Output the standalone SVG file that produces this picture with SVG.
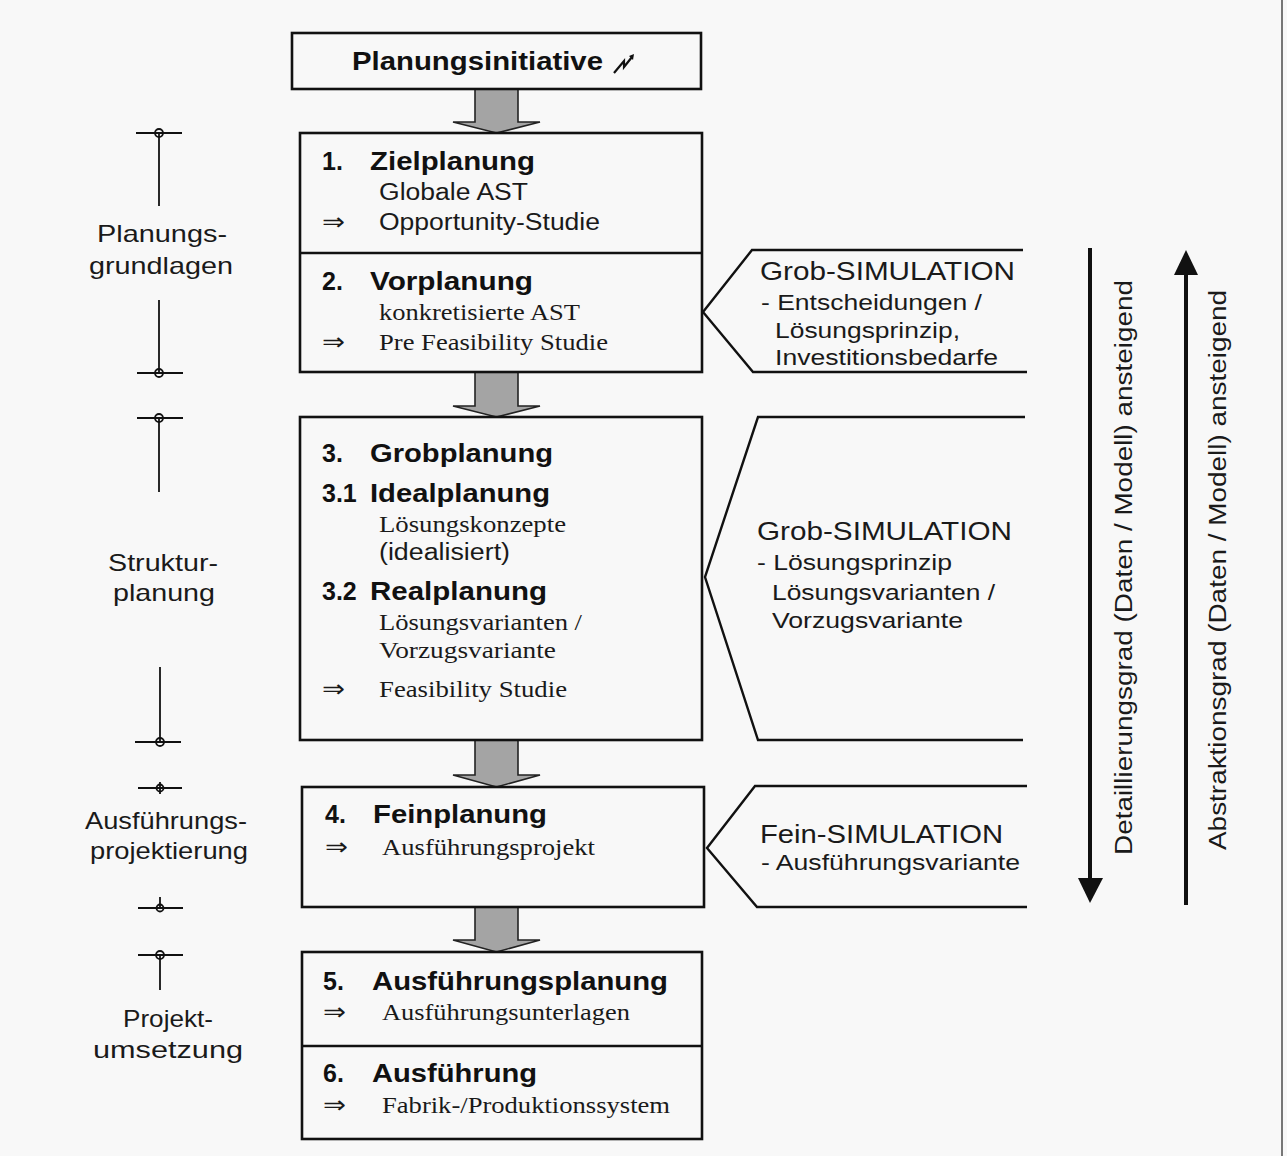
<svg xmlns="http://www.w3.org/2000/svg" width="1287" height="1156" viewBox="0 0 1287 1156">
<style>
.box{fill:none;stroke:#111;stroke-width:2.6}
.ln{fill:none;stroke:#111;stroke-width:2.4}
.thin{fill:none;stroke:#111;stroke-width:1.8}
.garrow{fill:#a4a4a4;stroke:#222;stroke-width:1.6}
.h{font-family:"Liberation Sans",Arial,sans-serif;font-weight:bold;font-size:25px;fill:#111}
.s{font-family:"Liberation Sans",Arial,sans-serif;font-size:23px;fill:#1a1a1a}
.r{font-family:"Liberation Serif","Times New Roman",serif;font-size:23px;fill:#1a1a1a}
.sym{font-family:"DejaVu Sans","DejaVu Serif",sans-serif;font-size:24px;fill:#1a1a1a}
.sim{font-family:"Liberation Sans",Arial,sans-serif;font-size:25px;fill:#1a1a1a}
.sub{font-family:"Liberation Sans",Arial,sans-serif;font-size:22px;fill:#1a1a1a}
.lab{font-family:"Liberation Sans",Arial,sans-serif;font-size:24px;fill:#1a1a1a}
.rot{font-family:"Liberation Sans",Arial,sans-serif;font-size:23px;fill:#1a1a1a}
</style>
<rect x="0" y="0" width="1287" height="1156" fill="#f8f8f8"/>
<line x1="1282" y1="0" x2="1282" y2="1156" stroke="#777" stroke-width="2"/>

<g id="connectors">
  <polygon class="garrow" points="475,89 518,89 518,122 540,122 496.5,133 453,122 475,122"/>
  <polygon class="garrow" points="475,372 518,372 518,406 540,406 496.5,417 453,406 475,406"/>
  <polygon class="garrow" points="475,740 518,740 518,775 540,775 496.5,787 453,775 475,775"/>
  <polygon class="garrow" points="475,907 518,907 518,940 540,940 496.5,952 453,940 475,940"/>
  <line x1="1090" y1="248" x2="1090" y2="880" stroke="#111" stroke-width="4"/>
  <polygon points="1078,878 1103,878 1090,903" fill="#111"/>
  <line x1="1186" y1="905" x2="1186" y2="272" stroke="#111" stroke-width="4"/>
  <polygon points="1174,275 1198,275 1186,250" fill="#111"/>
</g>

<g id="planungsinitiative">
  <rect class="box" x="292" y="33" width="409" height="56"/>
  <text class="h" x="352" y="70" textLength="251" lengthAdjust="spacingAndGlyphs">Planungsinitiative</text>
  <polyline points="614,73 624,61 624,67 632,57" fill="none" stroke="#111" stroke-width="2.2"/>
  <polygon points="629,56 634,54 633,60" fill="#111"/>
</g>

<g id="phase12">
  <rect class="box" x="300" y="133" width="402" height="239"/>
  <line class="box" x1="300" y1="253" x2="702" y2="253"/>
  <text class="h" x="322" y="170">1.</text>
  <text class="h" x="370" y="170" textLength="165" lengthAdjust="spacingAndGlyphs">Zielplanung</text>
  <text class="s" x="379" y="200" textLength="149" lengthAdjust="spacingAndGlyphs">Globale AST</text>
  <text class="sym" x="322" y="230" textLength="23" lengthAdjust="spacingAndGlyphs">⇒</text>
  <text class="s" x="379" y="230" textLength="221" lengthAdjust="spacingAndGlyphs">Opportunity-Studie</text>
  <text class="h" x="322" y="290">2.</text>
  <text class="h" x="370" y="290" textLength="163" lengthAdjust="spacingAndGlyphs">Vorplanung</text>
  <text class="r" x="379" y="320" textLength="201" lengthAdjust="spacingAndGlyphs">konkretisierte AST</text>
  <text class="sym" x="322" y="350" textLength="23" lengthAdjust="spacingAndGlyphs">⇒</text>
  <text class="r" x="379" y="350" textLength="229" lengthAdjust="spacingAndGlyphs">Pre Feasibility Studie</text>
</g>

<g id="phase3">
  <rect class="box" x="300" y="417" width="402" height="323"/>
  <text class="h" x="322" y="462">3.</text>
  <text class="h" x="370" y="462" textLength="183" lengthAdjust="spacingAndGlyphs">Grobplanung</text>
  <text class="h" x="322" y="502">3.1</text>
  <text class="h" x="370" y="502" textLength="180" lengthAdjust="spacingAndGlyphs">Idealplanung</text>
  <text class="r" x="379" y="532" textLength="187" lengthAdjust="spacingAndGlyphs">Lösungskonzepte</text>
  <text class="s" x="379" y="560" textLength="131" lengthAdjust="spacingAndGlyphs">(idealisiert)</text>
  <text class="h" x="322" y="600">3.2</text>
  <text class="h" x="370" y="600" textLength="177" lengthAdjust="spacingAndGlyphs">Realplanung</text>
  <text class="r" x="379" y="630" textLength="203" lengthAdjust="spacingAndGlyphs">Lösungsvarianten /</text>
  <text class="r" x="379" y="658" textLength="177" lengthAdjust="spacingAndGlyphs">Vorzugsvariante</text>
  <text class="sym" x="322" y="697" textLength="23" lengthAdjust="spacingAndGlyphs">⇒</text>
  <text class="r" x="379" y="697" textLength="188" lengthAdjust="spacingAndGlyphs">Feasibility Studie</text>
</g>

<g id="phase4">
  <rect class="box" x="302" y="787" width="402" height="120"/>
  <text class="h" x="325" y="823">4.</text>
  <text class="h" x="373" y="823" textLength="174" lengthAdjust="spacingAndGlyphs">Feinplanung</text>
  <text class="sym" x="325" y="855" textLength="23" lengthAdjust="spacingAndGlyphs">⇒</text>
  <text class="r" x="382" y="855" textLength="213" lengthAdjust="spacingAndGlyphs">Ausführungsprojekt</text>
</g>

<g id="phase56">
  <rect class="box" x="302" y="952" width="400" height="187"/>
  <line class="box" x1="302" y1="1046" x2="702" y2="1046"/>
  <text class="h" x="323" y="990">5.</text>
  <text class="h" x="372" y="990" textLength="296" lengthAdjust="spacingAndGlyphs">Ausführungsplanung</text>
  <text class="sym" x="323" y="1020" textLength="23" lengthAdjust="spacingAndGlyphs">⇒</text>
  <text class="r" x="382" y="1020" textLength="248" lengthAdjust="spacingAndGlyphs">Ausführungsunterlagen</text>
  <text class="h" x="323" y="1082">6.</text>
  <text class="h" x="372" y="1082" textLength="165" lengthAdjust="spacingAndGlyphs">Ausführung</text>
  <text class="sym" x="323" y="1113" textLength="23" lengthAdjust="spacingAndGlyphs">⇒</text>
  <text class="r" x="382" y="1113" textLength="288" lengthAdjust="spacingAndGlyphs">Fabrik-/Produktionssystem</text>
</g>

<g id="sim1">
  <polyline class="ln" points="1023,250 752,250 703,312 753,372 1027,372"/>
  <text class="sim" x="760" y="280" textLength="255" lengthAdjust="spacingAndGlyphs">Grob-SIMULATION</text>
  <text class="sub" x="761" y="310" textLength="221" lengthAdjust="spacingAndGlyphs">- Entscheidungen /</text>
  <text class="sub" x="775" y="338" textLength="185" lengthAdjust="spacingAndGlyphs">Lösungsprinzip,</text>
  <text class="sub" x="775" y="365" textLength="223" lengthAdjust="spacingAndGlyphs">Investitionsbedarfe</text>
</g>

<g id="sim2">
  <polyline class="ln" points="1025,417 758,417 705,577 758,740 1023,740"/>
  <text class="sim" x="757" y="540" textLength="255" lengthAdjust="spacingAndGlyphs">Grob-SIMULATION</text>
  <text class="sub" x="757" y="570" textLength="195" lengthAdjust="spacingAndGlyphs">- Lösungsprinzip</text>
  <text class="sub" x="772" y="600" textLength="223" lengthAdjust="spacingAndGlyphs">Lösungsvarianten /</text>
  <text class="sub" x="772" y="628" textLength="191" lengthAdjust="spacingAndGlyphs">Vorzugsvariante</text>
</g>

<g id="sim3">
  <polyline class="ln" points="1027,786 755,786 707,848 757,907 1027,907"/>
  <text class="sim" x="760" y="843" textLength="243" lengthAdjust="spacingAndGlyphs">Fein-SIMULATION</text>
  <text class="sub" x="761" y="870" textLength="259" lengthAdjust="spacingAndGlyphs">- Ausführungsvariante</text>
</g>

<g id="detaillierungsgrad">
  <text class="rot" transform="translate(1132,855) rotate(-90)" textLength="575" lengthAdjust="spacingAndGlyphs">Detaillierungsgrad (Daten / Modell) ansteigend</text>
</g>
<g id="abstraktionsgrad">
  <text class="rot" transform="translate(1226,850) rotate(-90)" textLength="560" lengthAdjust="spacingAndGlyphs">Abstraktionsgrad (Daten / Modell) ansteigend</text>
</g>

<g id="planungsgrundlagen">
  <line class="thin" x1="136" y1="133" x2="182" y2="133"/>
  <circle class="thin" cx="159" cy="133" r="4"/>
  <line class="thin" x1="159" y1="133" x2="159" y2="206"/>
  <text class="lab" x="97" y="242" textLength="130" lengthAdjust="spacingAndGlyphs">Planungs-</text>
  <text class="lab" x="89" y="274" textLength="144" lengthAdjust="spacingAndGlyphs">grundlagen</text>
  <line class="thin" x1="159" y1="300" x2="159" y2="373"/>
  <line class="thin" x1="137" y1="373" x2="183" y2="373"/>
  <circle class="thin" cx="159" cy="373" r="4"/>
</g>

<g id="strukturplanung">
  <line class="thin" x1="137" y1="418" x2="183" y2="418"/>
  <circle class="thin" cx="159" cy="418" r="4"/>
  <line class="thin" x1="159" y1="418" x2="159" y2="492"/>
  <text class="lab" x="108" y="571" textLength="110" lengthAdjust="spacingAndGlyphs">Struktur-</text>
  <text class="lab" x="113" y="601" textLength="102" lengthAdjust="spacingAndGlyphs">planung</text>
  <line class="thin" x1="160" y1="667" x2="160" y2="742"/>
  <line class="thin" x1="135" y1="742" x2="181" y2="742"/>
  <circle class="thin" cx="160" cy="742" r="4"/>
</g>

<g id="ausfuehrungsprojektierung">
  <line class="thin" x1="138" y1="788" x2="182" y2="788"/>
  <circle class="thin" cx="160" cy="788" r="3.5"/>
  <line class="thin" x1="160" y1="782" x2="160" y2="794"/>
  <text class="lab" x="85" y="829" textLength="162" lengthAdjust="spacingAndGlyphs">Ausführungs-</text>
  <text class="lab" x="90" y="859" textLength="158" lengthAdjust="spacingAndGlyphs">projektierung</text>
  <line class="thin" x1="138" y1="908" x2="183" y2="908"/>
  <circle class="thin" cx="160" cy="908" r="3.5"/>
  <line class="thin" x1="160" y1="897" x2="160" y2="908"/>
</g>

<g id="projektumsetzung">
  <line class="thin" x1="138" y1="955" x2="183" y2="955"/>
  <circle class="thin" cx="160" cy="955" r="4"/>
  <line class="thin" x1="160" y1="955" x2="160" y2="990"/>
  <text class="lab" x="123" y="1027" textLength="90" lengthAdjust="spacingAndGlyphs">Projekt-</text>
  <text class="lab" x="93" y="1058" textLength="150" lengthAdjust="spacingAndGlyphs">umsetzung</text>
</g>
</svg>
